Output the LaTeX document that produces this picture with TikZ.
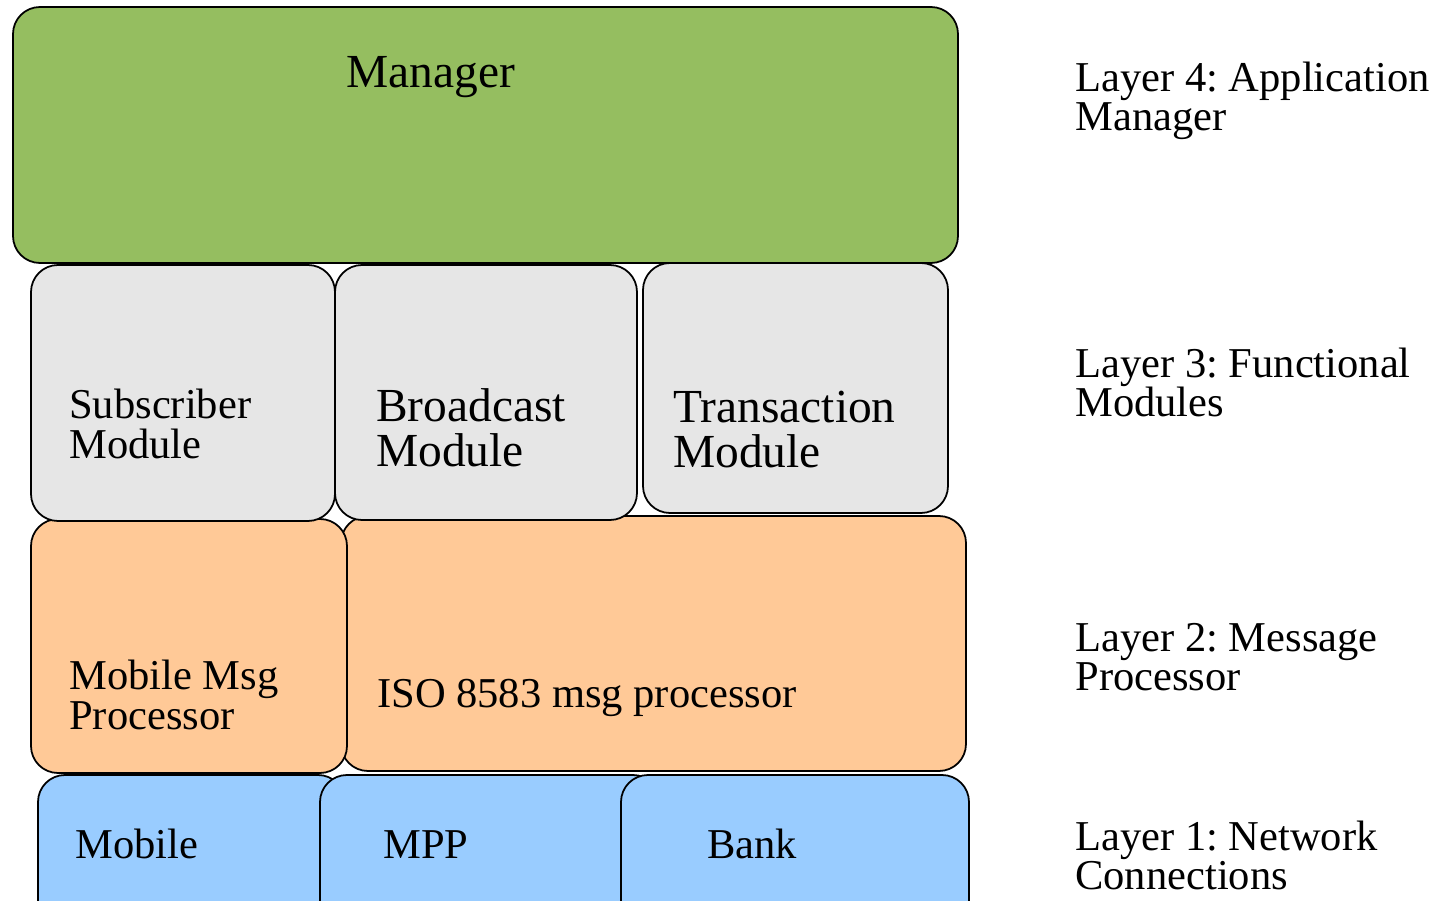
\documentclass[tikz,border=0pt]{standalone}
\usepackage{fontspec}
\setmainfont{Liberation Serif}
\usepackage{tikz}
\usetikzlibrary{positioning}
\usepackage{xcolor}
\frenchspacing

\definecolor{mgrgreen}{RGB}{149,190,96}
\definecolor{modgray}{RGB}{230,230,230}
\definecolor{msgorange}{RGB}{255,201,151}
\definecolor{netblue}{RGB}{153,204,255}

\begin{document}
\begin{tikzpicture}[
    x=0.02cm, y=-0.02cm,
    block/.style={draw=black, line width=1pt, rounded corners=0.54cm},
    txt/.style={anchor=base west, inner sep=0pt, align=left, font=\fontsize{24.2}{23}\selectfont},
    bigtxt/.style={anchor=base west, inner sep=0pt, align=left, font=\fontsize{27}{26}\selectfont},
    side/.style={anchor=base west, inner sep=0pt, align=left, font=\fontsize{24.2}{22.2}\selectfont}
]
\path[use as bounding box, clip] (0,0) rectangle (1448,901);

% layer 1: network connections
\draw[block, fill=netblue] (38,775) rectangle (345,930);
\draw[block, fill=netblue] (320,775) rectangle (660,930);
\draw[block, fill=netblue] (621,775) rectangle (969,930);
\node[txt] (mobile) at (75,859) {Mobile};
\node[txt] (mpp) at (383,859) {MPP};
\node[txt] (bank) at (707,859) {Bank};

% layer 2: message processors
\draw[block, fill=msgorange] (341,516) rectangle (966,771);
\draw[block, fill=msgorange] (31,519) rectangle (347,773);
% multi-line nodes sit on the baseline of their last line
\node[txt] (mobmsg) at (69,730) {Mobile Msg\\Processor};
\node[txt] (iso) at (377,708) {ISO 8583 msg processor};

% layer 3: functional modules
\draw[block, fill=modgray] (31,265) rectangle (335,521);
\draw[block, fill=modgray] (335,265) rectangle (637,520);
\draw[block, fill=modgray] (643,263) rectangle (948,513);
\node[txt] (subscr) at (69,459) {Subscriber\\Module};
\node[bigtxt] (bcast) at (376,467) {Broadcast\\Module};
\node[bigtxt] (trans) at (673,468) {Transaction\\Module};

% layer 4: manager
\draw[block, fill=mgrgreen] (13,7) rectangle (958,263);
\node[bigtxt, anchor=base] (mgr) at (431,88) {Manager};

% layer captions
\node[side] (lay4) at (1075,131) {Layer 4: Application\\Manager};
\node[side] (lay3) at (1075,417) {Layer 3: Functional\\Modules};
\node[side] (lay2) at (1075,691) {Layer 2: Message\\Processor};
\node[side] (lay1) at (1075,890) {Layer 1: Network\\Connections};

\end{tikzpicture}
\end{document}
